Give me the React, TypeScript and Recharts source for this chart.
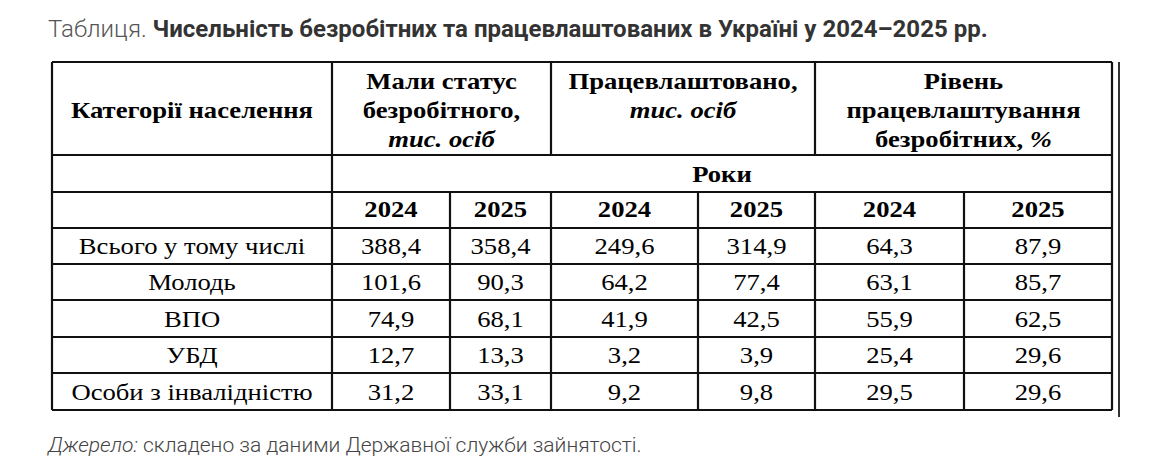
import React from 'react';
import { ScatterChart, Scatter, XAxis, YAxis, ReferenceLine } from 'recharts';

// ---- data ----
const categories = ['Всього у тому числі', 'Молодь', 'ВПО', 'УБД', 'Особи з інвалідністю'];
const years = ['2024', '2025'];
const unemployed2024 = [388.4, 101.6, 74.9, 12.7, 31.2];
const unemployed2025 = [358.4, 90.3, 68.1, 13.3, 33.1];
const employed2024 = [249.6, 64.2, 41.9, 3.2, 9.2];
const employed2025 = [314.9, 77.4, 42.5, 3.9, 9.8];
const rate2024 = [64.3, 63.1, 55.9, 25.4, 29.5];
const rate2025 = [87.9, 85.7, 62.5, 29.6, 29.6];
const headerCategory = 'Категорії населення';
const headerUnemployed = [[{ t: 'Мали статус' }], [{ t: 'безробітного,' }], [{ t: 'тис. осіб', i: true }]];
const headerEmployed = [[{ t: 'Працевлаштовано,' }], [{ t: 'тис. осіб', i: true }]];
const headerRate = [[{ t: 'Рівень' }], [{ t: 'працевлаштування' }], [{ t: 'безробітних, ' }, { t: '%', i: true }]];
const headerYears = 'Роки';
const titlePrefix = 'Таблиця. ';
const titleMain = 'Чисельність безробітних та працевлаштованих в Україні у 2024–2025 рр.';
const sourceLabel = 'Джерело:';
const sourceText = ' складено за даними Державної служби зайнятості.';

// ---- layout ----
const W = 1171;
const H = 462;
const COL = [52, 332, 450, 551, 698, 815, 964, 1112];
const ROW = [62, 155, 192, 228, 264, 300, 337, 373, 410];
const HEAD_BASE = [89, 118, 147];
const SERIF = "'Liberation Serif', 'DejaVu Serif', serif";
const FS = 24;
const SX = 1.11;

const fmt = (v: number) => v.toFixed(1).replace('.', ',');
const mid = (a: number, b: number) => (a + b) / 2;

type Part = { t: string; i?: boolean };
type Cell = { x: number; y: number; parts: Part[]; bold?: boolean };

const cells: Cell[] = [];
cells.push({ x: mid(COL[0], COL[1]), y: HEAD_BASE[1], parts: [{ t: headerCategory }], bold: true });
headerUnemployed.forEach((p, k) => cells.push({ x: mid(COL[1], COL[3]), y: HEAD_BASE[k], parts: p, bold: true }));
headerEmployed.forEach((p, k) => cells.push({ x: mid(COL[3], COL[5]), y: HEAD_BASE[k], parts: p, bold: true }));
headerRate.forEach((p, k) => cells.push({ x: mid(COL[5], COL[7]), y: HEAD_BASE[k], parts: p, bold: true }));
cells.push({ x: mid(COL[1], COL[7]), y: ROW[2] - 10, parts: [{ t: headerYears }], bold: true });
for (let g = 0; g < 3; g++) {
  years.forEach((yr, k) => {
    const c = 1 + g * 2 + k;
    cells.push({ x: mid(COL[c], COL[c + 1]), y: ROW[3] - 11, parts: [{ t: yr }], bold: true });
  });
}
const series = [unemployed2024, unemployed2025, employed2024, employed2025, rate2024, rate2025];
categories.forEach((cat, r) => {
  const base = mid(ROW[3 + r], ROW[4 + r]) + 8;
  cells.push({ x: mid(COL[0], COL[1]), y: base, parts: [{ t: cat }] });
  series.forEach((s, c) => {
    cells.push({ x: mid(COL[c + 1], COL[c + 2]), y: base, parts: [{ t: fmt(s[r]) }] });
  });
});

type Seg = [number, number, number, number];
const segs: Seg[] = [];
ROW.forEach((y) => segs.push([COL[0], y, COL[7], y]));
[COL[0], COL[1], COL[7]].forEach((x) => segs.push([x, ROW[0], x, ROW[8]]));
[COL[3], COL[5]].forEach((x) => {
  segs.push([x, ROW[0], x, ROW[1]]);
  segs.push([x, ROW[2], x, ROW[8]]);
});
[COL[2], COL[4], COL[6]].forEach((x) => segs.push([x, ROW[2], x, ROW[8]]));

const CellText = (props: any) => {
  const { cx, cy, payload } = props;
  if (cx == null || cy == null) return null;
  return (
    <text
      x={0}
      y={0}
      transform={`translate(${cx},${cy}) scale(${SX},1)`}
      textAnchor="middle"
      style={{
        fontFamily: SERIF,
        fontSize: FS,
        fontWeight: payload.bold ? 700 : 400,
        fill: '#000',
      }}
    >
      {payload.parts.map((p: Part, k: number) => (
        <tspan key={k} style={{ fontStyle: p.i ? 'italic' : 'normal', fontFamily: SERIF }}>
          {p.t}
        </tspan>
      ))}
    </text>
  );
};

export default function App() {
  return (
    <div style={{ position: 'relative', width: W, height: H, background: '#fff' }}>
      <style>{'body{margin:0;background:#fff}'}</style>
      <ScatterChart width={W} height={H} margin={{ top: 0, right: 0, bottom: 0, left: 0 }}>
        <XAxis type="number" dataKey="x" domain={[0, W]} hide />
        <YAxis type="number" dataKey="y" domain={[0, H]} reversed hide />
        {segs.map((s, k) => (
          <ReferenceLine
            key={k}
            segment={[{ x: s[0], y: s[1] }, { x: s[2], y: s[3] }]}
            stroke="#111"
            strokeWidth={2.2}
            ifOverflow="visible"
          />
        ))}
        <ReferenceLine
          segment={[{ x: 1119, y: ROW[0] }, { x: 1119, y: 417 }]}
          stroke="#333"
          strokeWidth={2}
          ifOverflow="visible"
        />
        <Scatter data={cells} shape={<CellText />} isAnimationActive={false} />
      </ScatterChart>
      <svg width={W} height={H} style={{ position: 'absolute', left: 0, top: 0, pointerEvents: 'none' }}>
        <text x={48} y={37} style={{ fontFamily: 'Roboto, sans-serif', fontSize: 24 }}>
          <tspan fill="#555" fontWeight={300}>{titlePrefix}</tspan>
          <tspan fill="#333" fontWeight={700}>{titleMain}</tspan>
        </text>
        <text x={48} y={452} style={{ fontFamily: 'Roboto, sans-serif', fontSize: 21, fontWeight: 300 }} fill="#444">
          <tspan fontStyle="italic">{sourceLabel}</tspan>
          <tspan>{sourceText}</tspan>
        </text>
      </svg>
    </div>
  );
}
